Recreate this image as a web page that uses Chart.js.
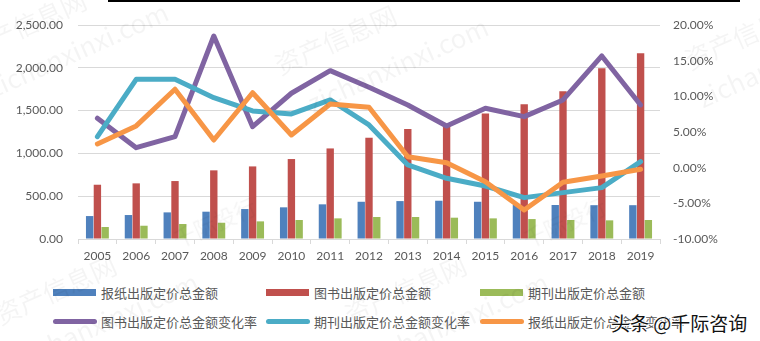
<!DOCTYPE html>
<html>
<head>
<meta charset="utf-8">
<script src="https://cdn.jsdelivr.net/npm/chart.js@4"></script>
<style>
  html, body { margin: 0; padding: 0; background: #fff; }
  #wrap { position: relative; width: 760px; height: 341px; overflow: hidden; font-family: Lato, "Noto Sans CJK SC", sans-serif; }
  #chart { position: absolute; left: 0; top: 0; }
  .topline { position: absolute; left: 108px; top: 0; width: 632px; height: 2px; background: #000; }
  .lg { position: absolute; font-size: 13px; color: #595959; font-family: "Noto Sans CJK SC", sans-serif; line-height: 16px; white-space: nowrap; }
  .lg i { position: absolute; display: block; }
  .wm { position: absolute; color: rgba(0,0,0,0.045); font-size: 26px; transform: rotate(-24deg); white-space: nowrap; font-family: "Noto Sans CJK SC", sans-serif; pointer-events: none; }
  .stamp { position: absolute; left: 611px; top: 309px; font-size: 19px; color: #111; font-family: "Noto Sans CJK SC", sans-serif; white-space: nowrap;
           text-shadow: 0 0 2px #fff, 0 0 2px #fff, 1px 1px 0 #fff, -1px -1px 0 #fff; }
</style>
</head>
<body>
<div id="wrap">
  <canvas id="chart" width="760" height="270"></canvas>
  <div class="topline"></div>
  <div id="legend"></div>
  <div class="wm" style="left:270px;top:20px;">资产信息网</div>
  <div class="wm" style="left:300px;top:45px;">zichanxinxi.com</div>
  <div class="wm" style="left:-40px;top:5px;">资产信息网</div>
  <div class="wm" style="left:-20px;top:30px;">zichanxinxi.com</div>
  <div class="wm" style="left:680px;top:15px;">资产信息网</div>
  <div class="wm" style="left:690px;top:40px;">zichanxinxi.com</div>
  <div class="wm" style="left:-10px;top:270px;">资产信息网</div>
  <div class="wm" style="left:10px;top:300px;">zichanxinxi.com</div>
  <div class="wm" style="left:340px;top:270px;">资产信息网</div>
  <div class="wm" style="left:360px;top:300px;">zichanxinxi.com</div>
  <div class="wm" style="left:170px;top:205px;font-size:22px;">千际投行</div>
  <div class="wm" style="left:520px;top:205px;font-size:22px;">千际投行</div>
  <div class="stamp">头条 @千际咨询</div>
</div>
<script>
// 年份
const years = ['2005','2006','2007','2008','2009','2010','2011','2012','2013','2014','2015','2016','2017','2018','2019'];

// 定价总金额（亿元）
const newspaperTotal = [268, 280, 311, 319, 350, 370, 405, 435, 443, 447, 435, 397, 397, 395, 395];
const bookTotal      = [634, 650, 677, 802, 848, 934, 1058, 1183, 1285, 1345, 1467, 1575, 1727, 1995, 2170];
const periodicTotal  = [140, 155, 175, 190, 206, 222, 241, 257, 257, 249, 241, 233, 222, 218, 222];

// 变化率（%）
const bookRate       = [6.93, 2.80, 4.35, 18.46, 5.75, 10.43, 13.60, 11.27, 8.79, 5.85, 8.33, 7.15, 9.49, 15.66, 8.79];
const periodicRate   = [4.35, 12.39, 12.39, 9.81, 7.95, 7.53, 9.49, 5.99, 0.38, -1.49, -2.57, -4.20, -3.50, -2.80, 0.84];
const newspaperRate  = [3.32, 5.85, 10.99, 3.88, 10.50, 4.58, 8.93, 8.47, 1.54, 0.70, -1.96, -5.93, -2.05, -1.16, -0.22];

const labels = {
    newspaperTotal: '报纸出版定价总金额',
    bookTotal: '图书出版定价总金额',
    periodicTotal: '期刊出版定价总金额',
    bookRate: '图书出版定价总金额变化率',
    periodicRate: '期刊出版定价总金额变化率',
    newspaperRate: '报纸出版定价总金额变化率'
};

const colors = {
    blue: '#4F81BD', red: '#C0504D', green: '#9BBB59',
    purple: '#8064A2', teal: '#4BACC6', orange: '#F79646'
};

const tickFont = { family: 'Lato', size: 12 };
const tickColor = '#595959';

function barSet(label, data, color) {
    return {
        type: 'bar', label, data, yAxisID: 'y',
        backgroundColor: color, borderWidth: 0,
        categoryPercentage: 0.6, barPercentage: 0.95, order: 10
    };
}

function lineSet(label, data, color, order) {
    return {
        type: 'line', label, data, yAxisID: 'y1',
        borderColor: color, backgroundColor: color, borderWidth: 5,
        pointRadius: 0, tension: 0, fill: false,
        borderCapStyle: 'round', borderJoinStyle: 'round', order
    };
}

new Chart(document.getElementById('chart'), {
    data: {
        labels: years,
        datasets: [
            barSet(labels.newspaperTotal, newspaperTotal, colors.blue),
            barSet(labels.bookTotal, bookTotal, colors.red),
            barSet(labels.periodicTotal, periodicTotal, colors.green),
            lineSet(labels.bookRate, bookRate, colors.purple, 3),
            lineSet(labels.periodicRate, periodicRate, colors.teal, 2),
            lineSet(labels.newspaperRate, newspaperRate, colors.orange, 1)
        ]
    },
    options: {
        responsive: false,
        animation: false,
        layout: { padding: { top: 25, left: 0, right: 0, bottom: 0 } },
        plugins: { legend: { display: false }, tooltip: { enabled: false } },
        scales: {
            x: {
                offset: true,
                grid: { offset: true, drawOnChartArea: false, color: '#D9D9D9', tickLength: 5 },
                border: { color: '#D9D9D9' },
                ticks: { font: tickFont, color: tickColor, padding: 5, maxRotation: 0 },
                afterFit: s => { s.height = 31; }
            },
            y: {
                position: 'left', min: 0, max: 2500,
                grid: { color: '#D9D9D9', drawTicks: false },
                border: { display: false },
                ticks: {
                    stepSize: 500, font: tickFont, color: tickColor, padding: 15,
                    callback: v => v.toLocaleString('en-US', { minimumFractionDigits: 2, maximumFractionDigits: 2 })
                },
                afterFit: s => { s.width = 78; }
            },
            y1: {
                position: 'right', min: -10, max: 20,
                grid: { display: false, drawTicks: false },
                border: { display: false },
                ticks: {
                    stepSize: 5, font: tickFont, color: tickColor, padding: 13,
                    callback: v => v.toFixed(2) + '%'
                },
                afterFit: s => { s.width = 100; }
            }
        }
    }
});

// 图例（三列两行）
const legendItems = [
    { text: labels.newspaperTotal, color: colors.blue, kind: 'box', x: 53, y: 293 },
    { text: labels.bookTotal, color: colors.red, kind: 'box', x: 266, y: 293 },
    { text: labels.periodicTotal, color: colors.green, kind: 'box', x: 480, y: 293 },
    { text: labels.bookRate, color: colors.purple, kind: 'line', x: 53, y: 322 },
    { text: labels.periodicRate, color: colors.teal, kind: 'line', x: 266, y: 322 },
    { text: labels.newspaperRate, color: colors.orange, kind: 'line', x: 480, y: 322 }
];
const legendEl = document.getElementById('legend');
legendEl.innerHTML = legendItems.map(it => {
    const mark = it.kind === 'box'
        ? `<i style="left:0;top:4px;width:43px;height:7px;background:${it.color};"></i>`
        : `<i style="left:0;top:5px;width:44px;height:5px;border-radius:3px;background:${it.color};"></i>`;
    return `<div class="lg" style="left:${it.x}px;top:${it.y - 8}px;padding-left:48px;">${mark}${it.text}</div>`;
}).join('');
</script>
</body>
</html>
